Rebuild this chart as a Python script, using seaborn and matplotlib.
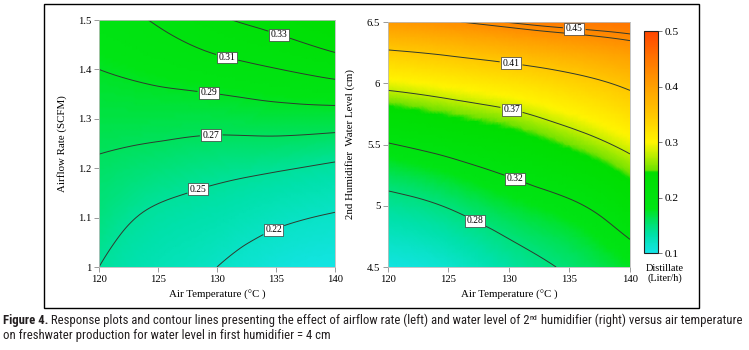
import numpy as np
import matplotlib
matplotlib.use("Agg")
import matplotlib.pyplot as plt
import matplotlib.tri as mtri
from matplotlib import font_manager
from matplotlib.cm import ScalarMappable
from matplotlib.colors import FuncNorm, LinearSegmentedColormap, Normalize
from matplotlib.patches import Rectangle
from matplotlib.ticker import FuncFormatter
import seaborn as sns

AIR_TEMP = [120, 125, 130, 135, 140]

AIRFLOW = [1.0, 1.1, 1.2, 1.3, 1.4, 1.5]
# rows = airflow rate, cols = air temperature
DISTILLATE_AIRFLOW = [
    [0.250, 0.233, 0.220, 0.199, 0.189],
    [0.259, 0.246, 0.238, 0.226, 0.217],
    [0.267, 0.261, 0.256, 0.252, 0.246],
    [0.2785, 0.278, 0.2776, 0.280, 0.280],
    [0.290, 0.296, 0.3026, 0.3094, 0.3175],
    [0.303, 0.312, 0.327, 0.3376, 0.353],
]

WATER_LEVEL = [4.5, 5.0, 5.5, 6.0, 6.5]
# rows = 2nd humidifier water level, cols = air temperature
DISTILLATE_WATER = [
    [0.229, 0.2395, 0.264, 0.284, 0.305],
    [0.269, 0.282, 0.3007, 0.3155, 0.3393],
    [0.3185, 0.3306, 0.343, 0.358, 0.3757],
    [0.377, 0.384, 0.3916, 0.4017, 0.4147],
    [0.438, 0.4435, 0.4505, 0.456, 0.459],
]

LEVELS_LEFT = [0.22, 0.25, 0.27, 0.29, 0.31, 0.33]
LEVELS_RIGHT = [0.28, 0.32, 0.37, 0.41, 0.45]
EXTRA_RIGHT = [0.445]  # unlabelled line near the top edge
CBAR_TICKS = [0.1, 0.2, 0.3, 0.4, 0.5]

# ---- styling ----------------------------------------------------------------
# where each label sits (data coords)
LABEL_POS_LEFT = [(134.8, 1.075), (128.3, 1.165), (129.5, 1.273),
                  (129.3, 1.353), (130.9, 1.429), (135.3, 1.473)]
LABEL_POS_RIGHT = [(127.3, 4.895), (130.6, 5.241), (130.2, 5.781),
                   (130.2, 6.181), (135.4, 6.448)]

# colorbar palette (position, rgb)
CMAP = LinearSegmentedColormap.from_list("distillate", [
    (0.00, "#14e4e6"),
    (0.08, "#00e1aa"),
    (0.15, "#00e15a"),
    (0.20, "#00e414"),
    (0.36, "#00de00"),
    (0.375, "#6ee200"),
    (0.44, "#beee00"),
    (0.50, "#fff500"),
    (0.62, "#ffc800"),
    (0.75, "#ffa000"),
    (0.88, "#ff7300"),
    (1.00, "#ff4600"),
])

# per-panel value -> palette position (each panel is scaled on its own)
MAP_LEFT = ([0.185, 0.22, 0.25, 0.27, 0.29, 0.36, 0.60],
            [0.0, 0.045, 0.095, 0.15, 0.19, 0.37, 1.0])
MAP_RIGHT = ([0.225, 0.255, 0.28, 0.30, 0.355, 0.362, 0.38, 0.41, 0.44, 0.47, 0.50],
             [0.0, 0.07, 0.12, 0.175, 0.36, 0.40, 0.5, 0.62, 0.78, 0.93, 1.0])

SERIF = "Liberation Serif"
TICK_FS, LABEL_FS, CLABEL_FS = 7.7, 7.8, 6.9
LINE_COLOR = "#2f3a2f"


def pick_font(names):
    for n in names:
        try:
            font_manager.findfont(n, fallback_to_default=False)
            return n
        except ValueError:
            continue
    return "DejaVu Sans"


def make_norm(mapping):
    vals, pos = mapping
    return FuncNorm((lambda v: np.interp(v, vals, pos),
                     lambda p: np.interp(p, pos, vals)),
                    vmin=vals[0], vmax=vals[-1])


def draw_panel(ax, x, y, z, levels, label_pos, mapping, extra=()):
    x = np.asarray(x, float)
    y = np.asarray(y, float)
    X, Y = np.meshgrid(x, y)
    # triangulate on the unit square so the smoothing is not distorted
    u = (X - x[0]) / (x[-1] - x[0])
    v = (Y - y[0]) / (y[-1] - y[0])
    tri = mtri.Triangulation(u.ravel(), v.ravel())
    fine, zf = mtri.UniformTriRefiner(tri).refine_field(np.asarray(z).ravel(), subdiv=4)
    fine = mtri.Triangulation(x[0] + fine.x * (x[-1] - x[0]),
                              y[0] + fine.y * (y[-1] - y[0]), fine.triangles)

    ax.tripcolor(fine, zf, cmap=CMAP, norm=make_norm(mapping), shading="gouraud")
    if extra:
        ax.tricontour(fine, zf, levels=list(extra), colors=LINE_COLOR, linewidths=0.7)
    cs = ax.tricontour(fine, zf, levels=levels, colors=LINE_COLOR, linewidths=0.7)

    ax.set_xlim(x[0], x[-1])
    ax.set_ylim(y[0], y[-1])
    ax.set_xticks(AIR_TEMP)
    ax.set_yticks(list(y))
    fmt = FuncFormatter(lambda val, _: f"{val:g}")
    ax.xaxis.set_major_formatter(fmt)
    ax.yaxis.set_major_formatter(fmt)
    ax.tick_params(direction="out", length=3.5, width=0.6, color="#8a8a8a",
                   labelsize=TICK_FS, pad=2, bottom=True, left=True)
    for s in ax.spines.values():
        s.set_color("#bdbdbd")
        s.set_linewidth(0.6)

    labels = ax.clabel(cs, manual=label_pos, inline=True, inline_spacing=3,
                       fmt="%.2f", fontsize=CLABEL_FS)
    for t in labels:
        t.set_rotation(0)
        t.set_family(SERIF)
        t.set_color("black")
        t.set_bbox(dict(boxstyle="square,pad=0.15", fc="white", ec="#3a3a3a", lw=0.5))


def write_runs(fig, x, y, pieces, size, family):
    """Place text pieces one after another on one line (fig coords)."""
    r = fig.canvas.get_renderer()
    fw = fig.bbox.width
    cur = x
    made = []
    for txt, weight, sup in pieces:
        t = fig.text(cur, y + (0.012 if sup else 0), txt,
                     fontsize=size * (0.62 if sup else 1.0), fontweight=weight,
                     family=family, color="#231f20", va="baseline", ha="left")
        made.append(t)
        cur += t.get_window_extent(r).width / fw
    return cur, made


def main():
    sns.set_theme(style="white")
    plt.rcParams["font.family"] = [SERIF, "DejaVu Serif"]
    plt.rcParams["text.color"] = "black"
    plt.rcParams["xtick.color"] = "#8a8a8a"
    plt.rcParams["ytick.color"] = "#8a8a8a"

    fig = plt.figure(figsize=(7.49, 3.50), dpi=100)
    fig.patch.set_facecolor("white")

    ax1 = fig.add_axes([0.1322, 0.2371, 0.3151, 0.7057])
    ax2 = fig.add_axes([0.5180, 0.2371, 0.3231, 0.7000])
    cax = fig.add_axes([0.8598, 0.2771, 0.0187, 0.6343])

    draw_panel(ax1, AIR_TEMP, AIRFLOW, DISTILLATE_AIRFLOW, LEVELS_LEFT,
               LABEL_POS_LEFT, MAP_LEFT)
    draw_panel(ax2, AIR_TEMP, WATER_LEVEL, DISTILLATE_WATER, LEVELS_RIGHT,
               LABEL_POS_RIGHT, MAP_RIGHT, extra=EXTRA_RIGHT)

    for ax in (ax1, ax2):
        for lab in ax.get_xticklabels() + ax.get_yticklabels():
            lab.set_color("black")
        ax.set_xlabel("Air Temperature (°C )", fontsize=LABEL_FS, color="black")
        ax.xaxis.set_label_coords(0.5, -0.095)
    ax1.set_ylabel("Airflow Rate (SCFM)", fontsize=LABEL_FS, color="black")
    ax1.yaxis.set_label_coords(-0.136, 0.5)
    ax2.set_ylabel("2nd Humidifier  Water Level (cm)", fontsize=LABEL_FS, color="black")
    ax2.yaxis.set_label_coords(-0.136, 0.5)

    cb = fig.colorbar(ScalarMappable(norm=Normalize(0.1, 0.5), cmap=CMAP),
                      cax=cax, ticks=CBAR_TICKS)
    cb.outline.set_edgecolor("#222222")
    cb.outline.set_linewidth(0.8)
    cax.yaxis.set_major_formatter(FuncFormatter(lambda val, _: f"{val:g}"))
    cax.tick_params(direction="out", length=3, width=0.6, color="#666666",
                    labelsize=TICK_FS + 0.5, labelcolor="black", pad=2)
    fig.text(0.888, 0.219, "Distillate\n(Liter/h)", ha="center", va="center",
             fontsize=TICK_FS - 0.3, linespacing=1.0, color="black")

    # frame around the figure body
    fig.patches.append(Rectangle((0.0587, 0.120), 0.8746, 0.8686, transform=fig.transFigure,
                                 fill=False, ec="black", lw=1.0))

    # caption, sized so the first line spans the page width
    sans = pick_font(["Liberation Sans Narrow", "Roboto Condensed", "Liberation Sans"])
    line1 = [("Figure 4.", "bold", False),
             (" Response plots and contour lines presenting the effect of airflow rate (left)"
              " and water level of 2", "normal", False),
             ("nd", "normal", True),
             (" humidifier (right) versus air temperature", "normal", False)]
    line2 = [("on freshwater production for water level in first humidifier = 4 cm",
              "normal", False)]
    fig.canvas.draw()
    x0, target_px = 0.004, 742.0
    size = 8.5
    for _ in range(6):
        _, made = write_runs(fig, x0, 0.074, line1, size, sans)
        fig.canvas.draw()
        right = made[-1].get_window_extent().x1
        if abs(right - target_px) < 2.0:
            break
        for t in made:
            t.remove()
        size *= (target_px - x0 * 749) / (right - x0 * 749)
    write_runs(fig, x0, 0.031, line2, size, sans)

    fig.savefig("out.png", dpi=100, facecolor="white")
    plt.close(fig)


if __name__ == "__main__":
    main()
